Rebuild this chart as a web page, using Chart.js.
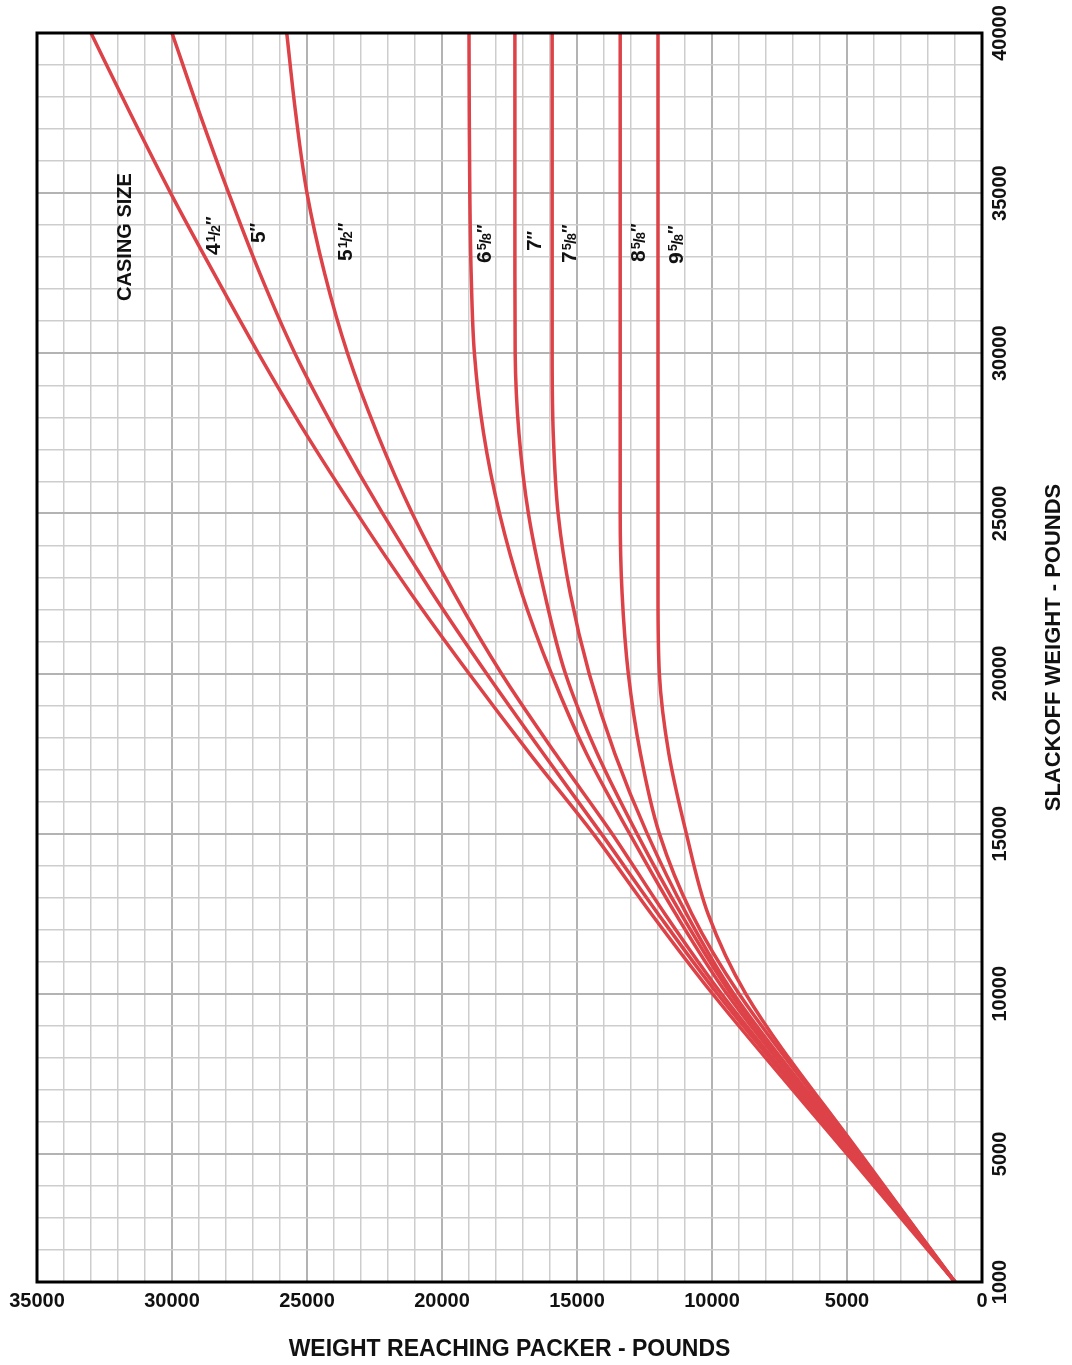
<!DOCTYPE html>
<html>
<head>
<meta charset="utf-8">
<title>Slackoff weight vs weight reaching packer</title>
<script src="https://cdn.jsdelivr.net/npm/chart.js"></script>
<style>
  html, body { margin: 0; padding: 0; background: #fff; }
  canvas { display: block; }
</style>
</head>
<body>
<canvas id="chart" width="1072" height="1365"></canvas>
<script>
// slackoff weight levels (lbs) shared by every curve
const slackoff = [1000, 5000, 10000, 12500, 15000, 17500, 20000, 22500, 25000, 27500, 30000, 32500, 35000, 37500, 40000];

// weight reaching packer (lbs) for each casing size
const packer4_5   = [1000, 5000, 9980, 12250, 14400, 16750, 19000, 21150, 23150, 25050, 26800, 28450, 30050, 31550, 33000];
const packer5     = [1000, 4900, 9800, 12000, 14100, 16250, 18350, 20350, 22200, 23900, 25450, 26750, 27900, 28980, 30000];
const packer5_5   = [1000, 4850, 9650, 11750, 13700, 15800, 17800, 19550, 21100, 22400, 23500, 24350, 25000, 25420, 25750];
const packer6_625 = [1000, 4750, 9450, 11350, 13050, 14650, 15950, 17040, 17870, 18460, 18800, 18920, 18970, 18990, 19000];
const packer7     = [1000, 4700, 9300, 11150, 12780, 14250, 15430, 16200, 16800, 17150, 17290, 17300, 17300, 17300, 17300];
const packer7_625 = [1000, 4650, 9200, 10950, 12400, 13600, 14550, 15250, 15700, 15880, 15920, 15920, 15920, 15920, 15920];
const packer8_625 = [1000, 4550, 9000, 10750, 11950, 12650, 13100, 13330, 13400, 13400, 13400, 13400, 13400, 13400, 13400];
const packer9_625 = [1000, 4500, 8750, 10150, 10950, 11600, 11950, 12000, 12000, 12000, 12000, 12000, 12000, 12000, 12000];

const casingNames = ['4½″', '5″', '5½″', '6⅝″', '7″', '7⅝″', '8⅝″', '9⅝″'];
const casingSeries = [packer4_5, packer5, packer5_5, packer6_625, packer7, packer7_625, packer8_625, packer9_625];

// where each casing label sits (packer lbs, slackoff lbs at the start of the text)
const labelPacker   = [28500, 26850, 23600, 18450, 16600, 15300, 12750, 11370];
const labelSlackoff = [33070, 33440, 32880, 32820, 33190, 32820, 32850, 32790];

// tick labels
const xTickLabels = [35000, 30000, 25000, 20000, 15000, 10000, 5000, 0];
const yTickLabels = [1000, 5000, 10000, 15000, 20000, 25000, 30000, 35000, 40000];

const FONT = '"Liberation Sans", Arial, Helvetica, sans-serif';
const RED = '#dc4247';
const FRACTIONS = {'½': ['1', '2'], '⅝': ['5', '8']};

const gridColor = c => (c.tick && c.tick.value % 5000 === 0) ? '#b3b3b3' : '#cdcdcd';
const gridWidth = c => (c.tick && c.tick.value % 5000 === 0) ? 2 : 1.5;

// draws e.g. 6⅝″ with a raised numerator and lowered denominator, rotated -90deg
function drawCasingLabel(ctx, name, px, py) {
  ctx.save();
  ctx.translate(px, py);
  ctx.rotate(-Math.PI / 2);
  ctx.textAlign = 'left';
  ctx.textBaseline = 'alphabetic';
  let pos = 0;
  const put = (txt, size, base, shrink) => {
    ctx.font = 'bold ' + size + 'px ' + FONT;
    ctx.fillText(txt, pos, base);
    pos += ctx.measureText(txt).width - (shrink || 0);
  };
  for (const ch of name) {
    if (FRACTIONS[ch]) {
      const [num, den] = FRACTIONS[ch];
      pos += 1;
      put(num, 13, 2, 1);
      put('/', 17, 7.5, 1);
      put(den, 13, 7.5, 0);
    } else if (ch === '″') {
      put(ch, 18, 6, 0);
    } else {
      put(ch, 21, 7.5, 0);
    }
  }
  ctx.restore();
}

// frame, right axis text and curve labels
const overlay = {
  id: 'overlay',
  afterDraw(chart) {
    const {ctx, chartArea: a, scales: {x, y}} = chart;
    ctx.save();
    ctx.strokeStyle = '#000';
    ctx.lineWidth = 3;
    ctx.strokeRect(a.left, a.top, a.right - a.left, a.bottom - a.top);

    const rotText = (txt, px, py) => {
      ctx.save();
      ctx.translate(px, py);
      ctx.rotate(-Math.PI / 2);
      ctx.textAlign = 'center';
      ctx.textBaseline = 'middle';
      ctx.fillText(txt, 0, 0);
      ctx.restore();
    };

    ctx.fillStyle = '#111';
    ctx.font = 'bold 20px ' + FONT;
    yTickLabels.forEach(v => rotText(String(v), a.right + 18, y.getPixelForValue(v)));

    ctx.font = 'bold 22px ' + FONT;
    rotText('SLACKOFF WEIGHT - POUNDS', a.right + 72, (a.top + a.bottom) / 2 - 10);

    ctx.font = 'bold 20px ' + FONT;
    rotText('CASING SIZE', x.getPixelForValue(31740), y.getPixelForValue(33630));

    casingNames.forEach((name, i) => {
      drawCasingLabel(ctx, name, x.getPixelForValue(labelPacker[i]), y.getPixelForValue(labelSlackoff[i]));
    });
    ctx.restore();
  }
};

const datasets = casingSeries.map((vals, i) => ({
  label: casingNames[i],
  data: vals.map((v, j) => ({x: v, y: slackoff[j]})),
  borderColor: RED,
  borderWidth: 3.5,
  pointRadius: 0,
  fill: false,
  cubicInterpolationMode: 'monotone'
}));

new Chart(document.getElementById('chart').getContext('2d'), {
  type: 'line',
  data: {datasets: datasets},
  options: {
    responsive: false,
    devicePixelRatio: 1,
    animation: false,
    events: [],
    indexAxis: 'y',
    layout: {padding: {left: 37, top: 33, right: 0, bottom: 0}},
    plugins: {legend: {display: false}, tooltip: {enabled: false}},
    scales: {
      x: {
        type: 'linear',
        position: 'bottom',
        reverse: true,
        min: 0,
        max: 35000,
        afterFit: s => { s.height = 83; },
        grid: {color: gridColor, lineWidth: gridWidth, drawTicks: false},
        border: {display: false},
        ticks: {
          stepSize: 1000,
          maxTicksLimit: 100,
          autoSkip: false,
          maxRotation: 0,
          padding: 7,
          color: '#111',
          font: {family: FONT, size: 20, weight: 'bold'},
          callback: v => (xTickLabels.includes(v) ? String(v) : '')
        },
        title: {
          display: true,
          text: 'WEIGHT REACHING PACKER - POUNDS',
          color: '#111',
          font: {family: FONT, size: 23, weight: 'bold'},
          padding: {top: 0, bottom: 2}
        }
      },
      y: {
        type: 'linear',
        position: 'right',
        min: 1000,
        max: 40000,
        afterFit: s => { s.width = 90; },
        grid: {color: gridColor, lineWidth: gridWidth, drawTicks: false},
        border: {display: false},
        ticks: {stepSize: 1000, maxTicksLimit: 100, autoSkip: false, display: false}
      }
    }
  },
  plugins: [overlay]
});
</script>
</body>
</html>
